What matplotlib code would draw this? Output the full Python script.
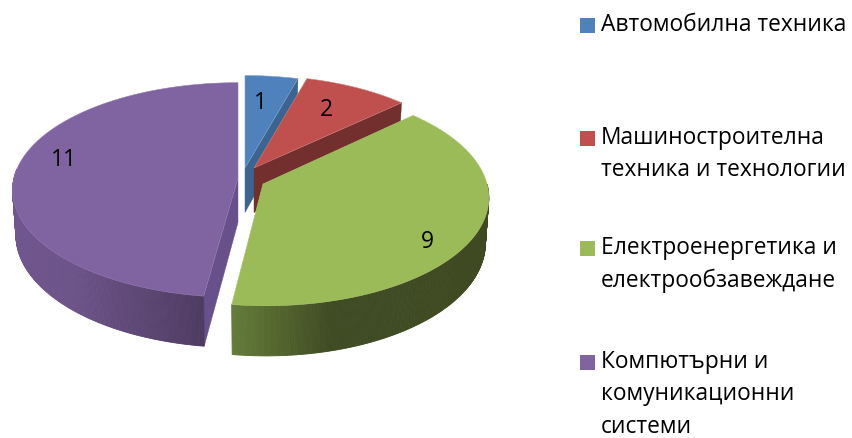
import numpy as np
import matplotlib
matplotlib.use("Agg")
import matplotlib.pyplot as plt
from matplotlib.patches import Polygon, Rectangle
from matplotlib.colors import to_rgb

# Data
categories = ["Автомобилна техника",
              "Машиностроителна\nтехника и технологии",
              "Електроенергетика и\nелектрообзавеждане",
              "Компютърни и\nкомуникационни\nсистеми"]
values = [1, 2, 9, 11]
top_colors = ["#4f81bd", "#c0504d", "#9bbb59", "#8064a2"]
edge_colors = ["#7fa3cf", "#cf7f7d", "#aac770", "#9079ae"]
side_colors = ["#3b6591", "#722f2e", "#4f6130", "#68508a"]

# Layout of the slices, in pixels
apex = [(245, 168), (254, 168), (263, 184), (238, 178)]
scale_x = [0.97, 0.97, 1.0, 1.0]
scale_y = [0.97, 0.97, 1.02, 1.0]
lean = [0, 0, 3, 0]
R = 224
A = 106
K = 0.112
H = 44.5
label_pos = [(260, 103), (326, 110), (427, 242), (64, 160)]
legend_y = [25.5, 138.5, 248.5, 362]
text_y = [25, 138, 248, 362]

# Colour of the curved wall, from left to right in pixels
green_x = [231, 270, 330, 488]
green_c = ["#647c3b", "#56692f", "#3f4b23", "#3f4a22"]
purple_x = [12, 80, 140, 203]
purple_c = ["#71578f", "#6b5287", "#5d4775", "#4e3b61"]


def top_point(i, deg):
    t = np.radians(deg)
    v = -np.cos(t)
    d = 1 - K * v
    x = apex[i][0] + scale_x[i] * R * np.sin(t) / d + lean[i] * v
    y = apex[i][1] + scale_y[i] * A * v / d
    return x, y


def bottom_point(i, deg):
    t = np.radians(deg)
    v = -np.cos(t)
    d = 1 - K * v
    x = apex[i][0] + 0.985 * scale_x[i] * R * np.sin(t) / d + lean[i] * v
    y = apex[i][1] + scale_y[i] * A * v / d + H / d
    return x, y


def curved_wall(ax, i, a0, a1, xs, cs):
    rgb = np.array([to_rgb(c) for c in cs])
    for a in np.arange(a0, a1, 0.5):
        b = min(a + 0.5, a1)
        p = [top_point(i, a), top_point(i, b), bottom_point(i, b), bottom_point(i, a)]
        mx = sum(q[0] for q in p) / 4
        col = [np.interp(mx, xs, rgb[:, k]) for k in range(3)]
        ax.add_patch(Polygon(p, facecolor=col, edgecolor=col, lw=0.6))


def radial_wall(ax, i, deg, color):
    p = [(apex[i][0], apex[i][1]), top_point(i, deg), bottom_point(i, deg),
         (apex[i][0], apex[i][1] + H)]
    ax.add_patch(Polygon(p, facecolor=color, edgecolor=color, lw=0.3))


def top_face(ax, i, a0, a1):
    pts = [apex[i]] + [top_point(i, a) for a in np.linspace(a0, a1, 200)]
    ax.add_patch(Polygon(pts, facecolor=top_colors[i], edgecolor=edge_colors[i], lw=0.4))


fig = plt.figure(figsize=(8.53, 4.38), dpi=100)
ax = fig.add_axes([0, 0, 1, 1])
ax.set_xlim(0, 853)
ax.set_ylim(438, 0)
ax.axis("off")

edges = np.concatenate([[0], np.cumsum(values)]) / sum(values) * 360

# Back slices first, so the nearer ones cover them
radial_wall(ax, 0, edges[1], side_colors[0])
top_face(ax, 0, edges[0], edges[1])
radial_wall(ax, 1, edges[2], side_colors[1])
top_face(ax, 1, edges[1], edges[2])
curved_wall(ax, 2, 90, edges[3], green_x, green_c)
top_face(ax, 2, edges[2], edges[3])
radial_wall(ax, 3, edges[3], side_colors[3])
curved_wall(ax, 3, edges[3], 275, purple_x, purple_c)
top_face(ax, 3, edges[3], edges[4])

for v, pos in zip(values, label_pos):
    ax.text(pos[0], pos[1], str(v), fontsize=16.5, family="Open Sans", color="black",
            ha="center", va="center")

for i, cat in enumerate(categories):
    ax.add_patch(Rectangle((580, legend_y[i] - 7.5), 15, 15, facecolor=top_colors[i], edgecolor="none"))
    ax.text(601, text_y[i] - 12, cat, fontsize=16.4, family="Open Sans", color="black",
            ha="left", va="top", linespacing=1.47)

fig.savefig("out.png", dpi=100)
